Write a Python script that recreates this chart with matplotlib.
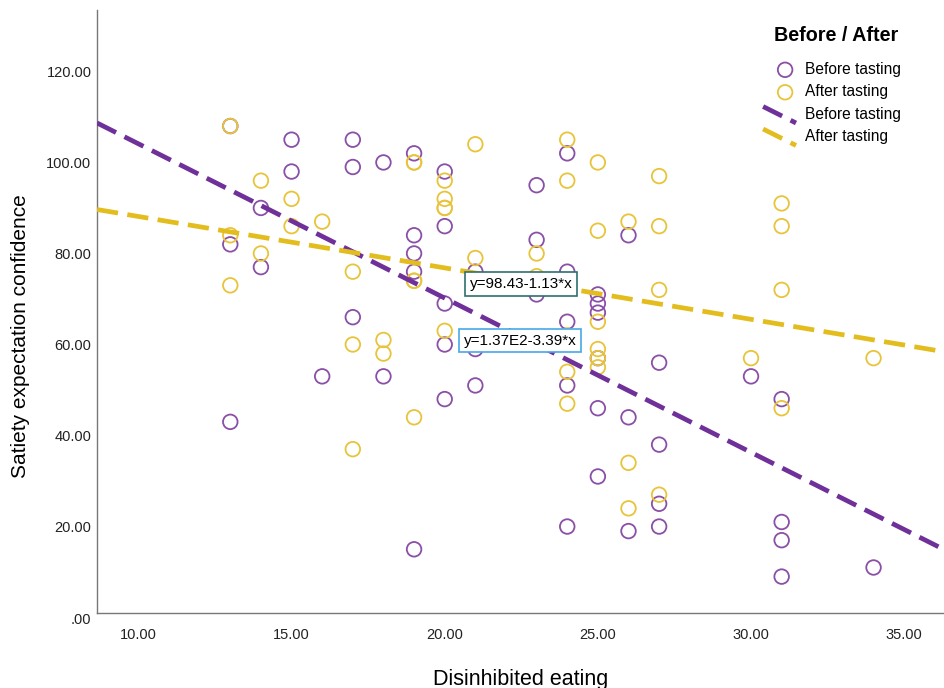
import matplotlib
matplotlib.use("Agg")
import matplotlib.pyplot as plt
import numpy as np
from matplotlib.legend_handler import HandlerLine2D
from matplotlib.lines import Line2D
from matplotlib.transforms import ScaledTranslation

plt.rcParams["font.family"] = ["Liberation Sans", "DejaVu Sans"]

# Disinhibited eating (x) and satiety expectation confidence (y)
before_x = [13, 13, 13, 14, 14, 15, 15, 16, 17, 17, 17, 18, 18,
            19, 19, 19, 19, 19, 20, 20, 20, 20, 20, 21, 21, 21,
            23, 23, 23, 24, 24, 24, 24, 24, 25, 25, 25, 25, 25, 25,
            26, 26, 26, 27, 27, 27, 27, 30, 31, 31, 31, 31, 34]
before_y = [107, 81, 42, 89, 76, 104, 97, 52, 104, 98, 65, 99, 52,
            101, 83, 79, 75, 14, 97, 85, 68, 59, 47, 75, 58, 50,
            94, 82, 70, 101, 75, 64, 50, 19, 70, 68, 66, 56, 45, 30,
            83, 43, 18, 55, 37, 24, 19, 52, 47, 20, 16, 8, 10]

after_x = [13, 13, 13, 14, 14, 15, 15, 16, 17, 17, 17, 18, 18,
           19, 19, 19, 19, 19, 20, 20, 20, 20, 20, 21, 21, 21,
           23, 23, 23, 24, 24, 24, 24, 24, 25, 25, 25, 25, 25, 25,
           26, 26, 26, 27, 27, 27, 27, 30, 31, 31, 31, 31, 34]
after_y = [107, 83, 72, 95, 79, 91, 85, 86, 75, 59, 36, 60, 57,
           99, 99, 73, 73, 43, 95, 91, 89, 89, 62, 103, 78, 72,
           79, 74, 60, 104, 95, 61, 53, 46, 99, 84, 64, 58, 56, 54,
           86, 33, 23, 96, 85, 71, 26, 56, 90, 85, 71, 45, 56]

# fit lines as reported on the chart: intercept, slope
before_fit = (137.0, -3.39)
after_fit = (98.43, -1.13)
before_eq = "y=1.37E2-3.39*x"
after_eq = "y=98.43-1.13*x"

x_ticks = [10, 15, 20, 25, 30, 35]
y_ticks = [0, 20, 40, 60, 80, 100, 120]

purple_pt = "#8a4fa6"
yellow_pt = "#e8c43a"
purple_ln = "#70309a"
yellow_ln = "#e3bd1d"


class SlantHandler(HandlerLine2D):
    # SPSS draws the fit-line legend keys on a slant
    def create_artists(self, legend, orig_handle, xdescent, ydescent,
                       width, height, fontsize, trans):
        line = Line2D([-xdescent - 8, -xdescent + width],
                      [height + 1, -ydescent - 3])
        self.update_prop(line, orig_handle, legend)
        line.set_transform(trans)
        return [line]


fig = plt.figure(figsize=(9.44, 6.88), dpi=100)
ax = fig.add_axes([0.1028, 0.109, 0.8972, 0.8765])

ax.scatter(before_x, before_y, s=110, facecolors="none", edgecolors=purple_pt,
           linewidths=1.3, label="Before tasting", zorder=2)
ax.scatter(after_x, after_y, s=110, facecolors="none", edgecolors=yellow_pt,
           linewidths=1.3, label="After tasting", zorder=2)

xlim = (8.65, 36.3)
xs = np.array(xlim)
l1, = ax.plot(xs, before_fit[0] + before_fit[1] * xs, color=purple_ln, lw=3.4,
              dashes=(4.5, 2), label="Before tasting", zorder=3)
l2, = ax.plot(xs, after_fit[0] + after_fit[1] * xs, color=yellow_ln, lw=3.4,
              dashes=(4.5, 2), label="After tasting", zorder=3)

ax.text(22.5, 72.3, after_eq, fontsize=11, ha="center", va="center", zorder=5,
        bbox=dict(boxstyle="square,pad=0.3", fc="white", ec="#2f6f6f", lw=1.2))
ax.text(22.47, 59.8, before_eq, fontsize=11, ha="center", va="center", zorder=5,
        bbox=dict(boxstyle="square,pad=0.3", fc="white", ec="#45a8e8", lw=1.2))

ax.set_xlim(*xlim)
ax.set_ylim(0, 132.5)
ax.set_xticks(x_ticks)
ax.set_xticklabels([f"{v:.2f}" for v in x_ticks])
ax.set_yticks(y_ticks)
ax.set_yticklabels([".00"] + [f"{v:.2f}" for v in y_ticks[1:]])
ax.tick_params(length=0, labelsize=10.5, colors="#222222")
ax.tick_params(axis="y", pad=4)
ax.tick_params(axis="x", pad=11)
for lbl in ax.get_yticklabels():
    lbl.set_transform(lbl.get_transform() +
                      ScaledTranslation(0, -5 / 100, fig.dpi_scale_trans))

for side in ["top", "right"]:
    ax.spines[side].set_visible(False)
for side in ["left", "bottom"]:
    ax.spines[side].set_color("#777777")
    ax.spines[side].set_linewidth(1.0)

ax.set_xlabel("Disinhibited eating", fontsize=15.5, labelpad=19)
ax.set_ylabel("Satiety expectation confidence", fontsize=15)
ax.yaxis.set_label_coords(-0.079, 0.459)

leg = ax.legend(loc="upper left", bbox_to_anchor=(768 / 944, 1 - 20 / 688),
                bbox_transform=fig.transFigure, frameon=False,
                title="Before / After", fontsize=11.2, handlelength=1.4,
                handletextpad=0.55, labelspacing=0.48, borderaxespad=0,
                handler_map={l1: SlantHandler(), l2: SlantHandler()})
leg.get_title().set_fontweight("bold")
leg.get_title().set_fontsize(14.2)
leg._legend_box.align = "left"
leg._legend_box.sep = 12

fig.savefig("out.png", dpi=100)
